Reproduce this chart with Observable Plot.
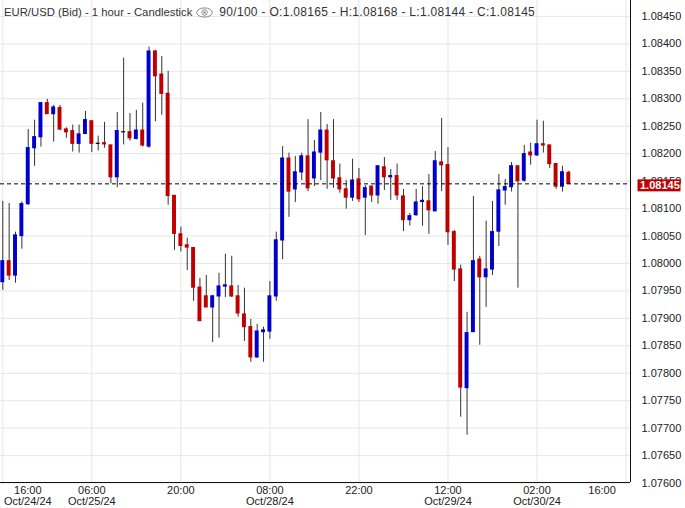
<!DOCTYPE html>
<html><head><meta charset="utf-8">
<script src="https://cdn.jsdelivr.net/npm/d3@7"></script>
<script src="https://cdn.jsdelivr.net/npm/@observablehq/plot@0.6"></script>
<style>
body{margin:0;background:#fff;font-family:"Liberation Sans",Arial,sans-serif;}
#wrap{position:relative;width:685px;height:508px;}
#hdr{position:absolute;left:4px;top:4px;font-size:12px;color:#333;white-space:pre;display:flex;align-items:center;height:16px;}
#hdr .a{font-size:11.3px;}
#hdr .b{letter-spacing:0.3px;}
#hdr svg{margin:0 6px 0 4px;}
</style></head><body>
<div id="wrap"><div id="hdr"></div></div>
<script>
const symbolName = "EUR/USD (Bid) - 1 hour - Candlestick";
const shownBars = "90/100";
const open = [1.07966,1.08004,1.07978,1.08050,1.08108,1.08210,1.08230,1.08292,1.08272,1.08283,
1.08244,1.08241,1.08218,1.08236,1.08259,1.08218,1.08219,1.08215,1.08157,1.08239,
1.08239,1.08227,1.08242,1.08213,1.08386,1.08344,1.08309,1.08123,1.08053,1.08033,
1.08028,1.07956,1.07940,1.07920,1.07940,1.07958,1.07958,1.07940,1.07907,1.07884,
1.07829,1.07875,1.07876,1.07940,1.08042,1.08191,1.08135,1.08166,1.08195,1.08155,
1.08202,1.08242,1.08186,1.08155,1.08135,1.08120,1.08153,1.08120,1.08140,1.08124,
1.08175,1.08157,1.08159,1.08122,1.08079,1.08088,1.08112,1.08113,1.08095,1.08184,
1.08179,1.08057,1.07989,1.07773,1.07875,1.08007,1.07975,1.07989,1.08058,1.08133,
1.08139,1.08177,1.08151,1.08202,1.08197,1.08217,1.08215,1.08181,1.08140,1.08165];
const high = [1.08113,1.08109,1.08057,1.08112,1.08244,1.08261,1.08292,1.08299,1.08288,1.08288,
1.08247,1.08252,1.08252,1.08277,1.08259,1.08232,1.08257,1.08215,1.08275,1.08374,
1.08273,1.08279,1.08292,1.08394,1.08388,1.08377,1.08350,1.08123,1.08066,1.08046,
1.08029,1.07973,1.07978,1.07942,1.07982,1.08017,1.08013,1.07960,1.07955,1.07898,
1.07889,1.07884,1.07967,1.08057,1.08213,1.08201,1.08195,1.08201,1.08262,1.08224,
1.08275,1.08253,1.08262,1.08181,1.08151,1.08190,1.08173,1.08142,1.08140,1.08177,
1.08193,1.08171,1.08181,1.08135,1.08091,1.08135,1.08140,1.08162,1.08204,1.08264,
1.08211,1.08060,1.07997,1.07911,1.08122,1.08013,1.08077,1.08113,1.08162,1.08153,
1.08184,1.08177,1.08215,1.08219,1.08261,1.08259,1.08215,1.08181,1.08177,1.08168];
const low = [1.07951,1.07969,1.07964,1.08026,1.08106,1.08177,1.08212,1.08272,1.08221,1.08242,
1.08228,1.08203,1.08201,1.08236,1.08202,1.08205,1.08210,1.08145,1.08138,1.08216,
1.08223,1.08225,1.08212,1.08210,1.08258,1.08270,1.08106,1.08024,1.08021,1.07987,
1.07931,1.07895,1.07920,1.07856,1.07864,1.07938,1.07938,1.07902,1.07858,1.07820,
1.07827,1.07820,1.07862,1.07931,1.08007,1.08084,1.08111,1.08151,1.08131,1.08140,
1.08151,1.08135,1.08137,1.08128,1.08099,1.08113,1.08111,1.08051,1.08111,1.08108,
1.08133,1.08115,1.08115,1.08058,1.08068,1.08086,1.08068,1.08053,1.08095,1.08131,
1.08033,1.07967,1.07720,1.07687,1.07875,1.07851,1.07920,1.07978,1.08031,1.08106,
1.08130,1.07955,1.08148,1.08179,1.08195,1.08201,1.08173,1.08135,1.08130,1.08144];
const close = [1.08004,1.07978,1.08051,1.08108,1.08210,1.08230,1.08292,1.08272,1.08284,1.08244,
1.08239,1.08218,1.08235,1.08261,1.08218,1.08218,1.08217,1.08157,1.08241,1.08239,
1.08228,1.08242,1.08215,1.08386,1.08341,1.08309,1.08123,1.08054,1.08032,1.08029,
1.07956,1.07895,1.07920,1.07940,1.07958,1.07960,1.07940,1.07909,1.07884,1.07829,
1.07876,1.07878,1.07940,1.08042,1.08191,1.08131,1.08166,1.08195,1.08137,1.08202,
1.08242,1.08188,1.08155,1.08135,1.08120,1.08151,1.08117,1.08137,1.08124,1.08177,
1.08157,1.08159,1.08124,1.08079,1.08086,1.08111,1.08114,1.08097,1.08186,1.08179,
1.08057,1.07989,1.07774,1.07873,1.08004,1.07975,1.07989,1.08057,1.08133,1.08139,
1.08177,1.08150,1.08199,1.08197,1.08217,1.08215,1.08181,1.08140,1.08166,1.08145];

const tickIndex = [0,14,28,42,56,70,84,98];
const tickTime = ["16:00","06:00","20:00","08:00","22:00","12:00","02:00","16:00"];
const tickDate = ["Oct/24/24","Oct/25/24","","Oct/28/24","","Oct/29/24","Oct/30/24",""];
const priceTicks = [1.07600,1.07650,1.07700,1.07750,1.07800,1.07850,1.07900,1.07950,1.08000,
1.08050,1.08100,1.08150,1.08200,1.08250,1.08300,1.08350,1.08400,1.08450];

const xDomain = [-0.36, 98.7];
const yDomain = [1.07601, 1.08479];
const UP = "#0000cc", DOWN = "#c00000", FLAT = "#000000";

const bars = open.map((o, i) => ({i, o, h: high[i], l: low[i], c: close[i]}));
const ticks = tickIndex.map((x, k) => ({x, t: tickTime[k], d: tickDate[k], k}));
const last = bars[bars.length - 1];

const eye = `<svg width="17" height="11" viewBox="0 0 17 11"><ellipse cx="8.5" cy="5.5" rx="7.8" ry="4.6" fill="none" stroke="#888" stroke-width="1"/><circle cx="8.5" cy="5.5" r="2.8" fill="none" stroke="#888" stroke-width="1"/><circle cx="8.5" cy="5.5" r="1.2" fill="#888"/></svg>`;
const f5 = v => v.toFixed(5);
document.getElementById("hdr").innerHTML =
  `<span class="a">${symbolName}</span>${eye}<span class="b">${shownBars} - O:${f5(last.o)} - H:${f5(last.h)} - L:${f5(last.l)} - C:${f5(last.c)}</span>`;

const colorOf = d => d.c > d.o ? UP : d.c < d.o ? DOWN : FLAT;
const lbl = d => d.d ? d.t + "\n" + d.d : d.t;

const priceBox = (index, scales, values, dims) => {
  const y = scales.y(last.c);
  const x0 = dims.width - dims.marginRight;
  const g = d3.create("svg:g");
  g.append("rect").attr("x", x0 + 7.5).attr("y", y - 4).attr("width", 43).attr("height", 12).attr("fill", DOWN);
  g.append("text").attr("x", x0 + 10).attr("y", y + 2).attr("dy", "0.35em").attr("text-anchor", "start")
    .attr("fill", "#fff").attr("font-weight", "bold").attr("font-size", 11).text(f5(last.c));
  return g.node();
};

const chart = Plot.plot({
  width: 685, height: 508,
  marginTop: 0, marginBottom: 26, marginLeft: 0, marginRight: 55,
  style: {fontFamily: '"Liberation Sans", Arial, sans-serif', fontSize: "11px", color: "#222", background: "#fff"},
  x: {type: "linear", domain: xDomain, axis: null},
  y: {domain: yDomain, axis: null},
  marks: [
    Plot.ruleY(priceTicks, {stroke: "#e6e6e6", strokeWidth: 1}),
    Plot.ruleX(tickIndex, {stroke: "#e6e6e6", strokeWidth: 1}),
    Plot.ruleX(bars, {x: "i", y1: "l", y2: "h", stroke: "#333", strokeWidth: 1}),
    Plot.rect(bars, {x1: d => d.i - 0.31, x2: d => d.i + 0.31, y1: d => Math.min(d.o, d.c), y2: d => Math.max(d.o, d.c),
      fill: colorOf, insetTop: -0.6, insetBottom: -0.6}),
    Plot.ruleY([last.c], {stroke: "#000", strokeDasharray: "4,3", strokeWidth: 1}),
    Plot.ruleY([yDomain[0]], {stroke: "#111", strokeWidth: 1}),
    Plot.ruleX([xDomain[1]], {stroke: "#111", strokeWidth: 1}),
    Plot.axisY(priceTicks, {anchor: "right", tickSize: 0, tickPadding: 11, tickFormat: f5, fontSize: 11}),
    priceBox,
    Plot.text(ticks.filter(d => d.k > 0 && d.k < ticks.length - 1), {x: "x", text: lbl, frameAnchor: "bottom", lineAnchor: "top", dy: 4, fontSize: 11}),
    Plot.text(ticks.filter(d => d.k === 0), {x: "x", text: lbl, frameAnchor: "bottom", lineAnchor: "top", dy: 4, dx: 25, fontSize: 11}),
    Plot.text(ticks.filter(d => d.k === ticks.length - 1), {x: "x", text: lbl, frameAnchor: "bottom", lineAnchor: "top", dy: 4, dx: -24, fontSize: 11})
  ]
});
document.getElementById("wrap").prepend(chart);
</script>
</body></html>
